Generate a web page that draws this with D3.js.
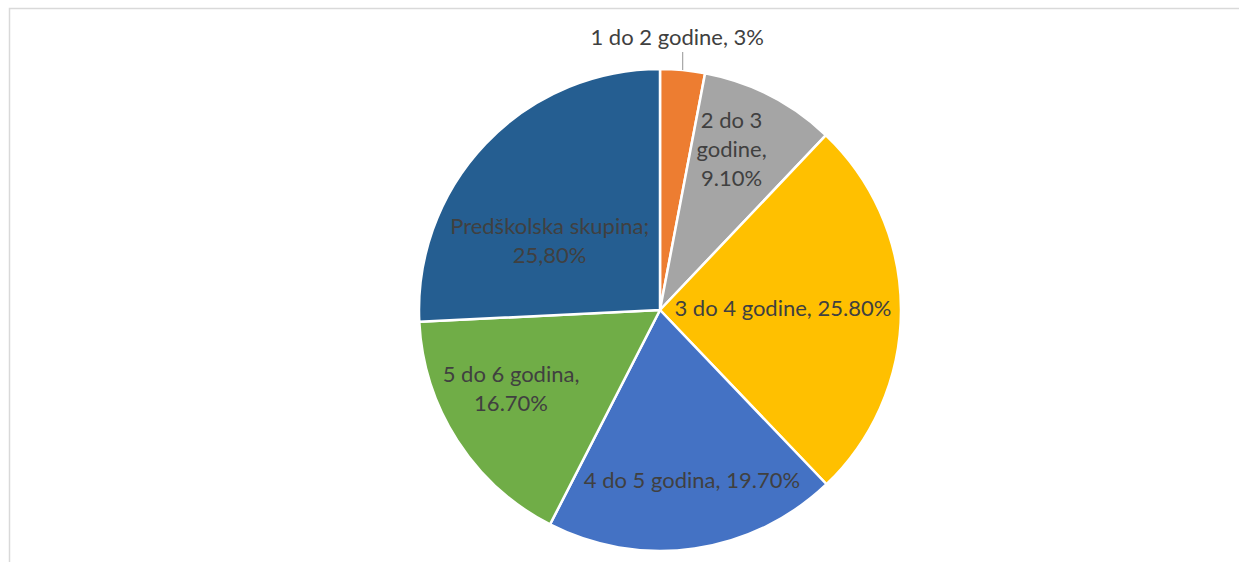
<!DOCTYPE html>
<html>
<head>
<meta charset="utf-8">
<script src="https://cdn.jsdelivr.net/npm/d3@7"></script>
<style>
  body { margin: 0; background: #fff; }
  text { font-family: Lato, "Open Sans", sans-serif; fill: #404040; }
</style>
</head>
<body>
<svg id="chart" width="1239" height="562"></svg>
<script>
// data
const categories = ["1 do 2 godine", "2 do 3 godine", "3 do 4 godine", "4 do 5 godina", "5 do 6 godina", "Predškolska skupina"];
const values = [3, 9.1, 25.8, 19.7, 16.7, 25.8];
const valueLabels = ["3%", "9.10%", "25.80%", "19.70%", "16.70%", "25,80%"];
const colors = ["#ED7D31", "#A5A5A5", "#FFC000", "#4472C4", "#70AD47", "#255E91"];

// label text lines as they wrap in the original
const labelLines = [
  ["1 do 2 godine, 3%"],
  ["2 do 3", "godine,", "9.10%"],
  ["3 do 4 godine, 25.80%"],
  ["4 do 5 godina, 19.70%"],
  ["5 do 6 godina,", "16.70%"],
  ["Predškolska skupina;", "25,80%"]
];
// label anchor: angle (deg, clockwise from top) and radius as share of pie radius
const labelAngle = [3.6, 24, 89, 169.4, 242, 302];
const labelRadius = [1.135, 0.73, 0.51, 0.72, 0.70, 0.54];

const W = 1239, H = 562;
const cx = 660, cy = 310, R = 241;
const fontSize = 22, lineH = 29;

const svg = d3.select("#chart");

// chart border (only top & left visible in the crop)
svg.append("rect")
  .attr("x", 9.5).attr("y", 8.5)
  .attr("width", W + 20).attr("height", H + 20)
  .attr("fill", "none")
  .attr("stroke", "#d9d9d9")
  .attr("stroke-width", 1.5);

const pie = d3.pie().sort(null).value(d => d);
const arcs = pie(values);
const arc = d3.arc().innerRadius(0).outerRadius(R);

const g = svg.append("g").attr("transform", `translate(${cx},${cy})`);

g.selectAll("path")
  .data(arcs)
  .enter()
  .append("path")
  .attr("d", arc)
  .attr("fill", (d, i) => colors[i])
  .attr("stroke", "#fff")
  .attr("stroke-width", 2.5)
  .attr("stroke-linejoin", "round");

function polar(angleDeg, r) {
  const a = angleDeg * Math.PI / 180;
  return [Math.sin(a) * r, -Math.cos(a) * r];
}

// leader line for the small slice
const mid0 = (arcs[0].startAngle + arcs[0].endAngle) / 2 * 180 / Math.PI;
const p0 = polar(mid0, R);
g.append("line")
  .attr("x1", p0[0]).attr("y1", p0[1])
  .attr("x2", p0[0]).attr("y2", p0[1] - 18)
  .attr("stroke", "#a6a6a6")
  .attr("stroke-width", 1.2);

// labels
labelLines.forEach((lines, i) => {
  const [x, y] = polar(labelAngle[i], labelRadius[i] * R);
  const t = g.append("text")
    .attr("text-anchor", "middle")
    .attr("font-size", fontSize);
  const y0 = y - (lines.length - 1) * lineH / 2;
  lines.forEach((ln, j) => {
    t.append("tspan")
      .attr("x", x)
      .attr("y", y0 + j * lineH)
      .attr("dy", "0.35em")
      .text(ln);
  });
});
</script>
</body>
</html>
